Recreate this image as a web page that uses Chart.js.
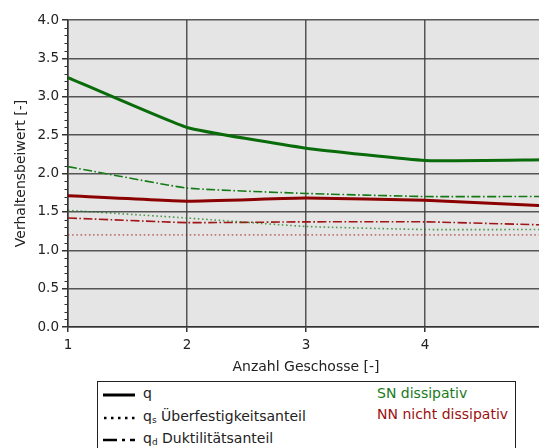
<!DOCTYPE html>
<html>
<head>
<meta charset="utf-8">
<script src="https://cdn.jsdelivr.net/npm/chart.js@4"></script>
<style>
  html, body { margin:0; padding:0; background:#fff; overflow:hidden; width:539px; height:448px; }
  #wrap { position:relative; width:560px; height:448px; }
  canvas { position:absolute; left:0; top:0; }
  #legend { position:absolute; left:97px; top:381px; width:417px; height:90px; border:1.5px solid #222; background:#fff;
            font-family:"DejaVu Sans", sans-serif; font-size:14px; color:#222; }
  .row { position:absolute; left:0; height:20px; }
  .row svg { position:absolute; left:4px; top:4px; }
  .row span { position:absolute; left:45px; top:0px; white-space:nowrap; }
  sub { font-size:9px; vertical-align:-2px; }
  .note { position:absolute; left:279px; white-space:nowrap; }
</style>
</head>
<body>
<div id="wrap">
  <canvas id="c" width="549" height="379"></canvas>
  <div id="legend">
    <div class="row" style="top:3px;"><svg width="34" height="12"><line x1="1" y1="6" x2="33" y2="6" stroke="#000" stroke-width="3"/></svg><span>q</span></div>
    <div class="row" style="top:26px;"><svg width="34" height="12"><line x1="2" y1="6" x2="33" y2="6" stroke="#000" stroke-width="2.5" stroke-dasharray="2.5 4.5"/></svg><span>q<sub>s</sub> Überfestigkeitsanteil</span></div>
    <div class="row" style="top:48px;"><svg width="34" height="12"><line x1="1" y1="6" x2="33" y2="6" stroke="#000" stroke-width="2.5" stroke-dasharray="14 5 3 5"/></svg><span>q<sub>d</sub> Duktilitätsanteil</span></div>
    <div class="note" style="top:3px; color:#1a7a1a;">SN dissipativ</div>
    <div class="note" style="top:24px; color:#9b1111;">NN nicht dissipativ</div>
  </div>
</div>
<script>
// Data
const floors = [1, 2, 3, 4, 5];
const snQ  = [3.25, 2.60, 2.33, 2.17, 2.18];
const snQs = [1.52, 1.42, 1.31, 1.27, 1.27];
const snQd = [2.09, 1.81, 1.74, 1.70, 1.70];
const nnQ  = [1.71, 1.64, 1.68, 1.65, 1.58];
const nnQs = [1.20, 1.20, 1.20, 1.20, 1.20];
const nnQd = [1.42, 1.36, 1.37, 1.37, 1.33];
const yTickStep = 0.5;
const xTickStep = 1;

const toPts = arr => floors.map((x, i) => ({x, y: arr[i]}));
const GREEN = '#0a6b0a';
const RED = '#8b0000';

const bgPlugin = {
  id: 'bg',
  beforeDraw(chart) {
    const {ctx, chartArea: a} = chart;
    ctx.save();
    ctx.fillStyle = '#e5e5e5';
    ctx.fillRect(a.left, a.top, a.right - a.left, a.bottom - a.top);
    ctx.restore();
  }
};
const minorPlugin = {
  id: 'minor',
  afterDraw(chart) {
    const {ctx} = chart;
    const y = chart.scales.y;
    ctx.save();
    ctx.strokeStyle = '#333';
    ctx.lineWidth = 1;
    for (let i = 1; i < 40; i++) {
      if (i % 5 === 0) continue;
      const py = Math.round(y.getPixelForValue(i / 10)) + 0.5;
      ctx.beginPath();
      ctx.moveTo(y.right - 3.5, py);
      ctx.lineTo(y.right, py);
      ctx.stroke();
    }
    ctx.restore();
  }
};

const font = {family: '"DejaVu Sans", sans-serif', size: 13.5};
const tfont = {family: '"DejaVu Sans", sans-serif', size: 14};

new Chart(document.getElementById('c'), {
  type: 'line',
  data: {
    datasets: [
      {data: toPts(nnQs), borderColor: 'rgba(160,30,30,0.55)', borderWidth: 1.6, borderDash: [1.6, 2.6]},
      {data: toPts(snQs), borderColor: 'rgba(20,120,20,0.7)', borderWidth: 1.6, borderDash: [1.6, 2.6]},
      {data: toPts(nnQd), borderColor: '#a01515', borderWidth: 1.6, borderDash: [9, 2.5, 1.6, 2.5]},
      {data: toPts(snQd), borderColor: '#147a14', borderWidth: 1.6, borderDash: [9, 2.5, 1.6, 2.5]},
      {data: toPts(nnQ), borderColor: RED, borderWidth: 3},
      {data: toPts(snQ), borderColor: GREEN, borderWidth: 3},
    ].map(d => Object.assign({pointRadius: 0, fill: false, tension: 0.12, borderCapStyle: 'butt'}, d))
  },
  options: {
    responsive: false,
    animation: false,
    events: [],
    layout: {padding: {top: 20, left: 0, right: 1, bottom: 0}},
    plugins: {legend: {display: false}, tooltip: {enabled: false}},
    scales: {
      x: {
        type: 'linear', min: 1, max: 5,
        afterFit: s => { s.height = 52; },
        ticks: {stepSize: xTickStep, color: '#222', font, padding: 5,
                callback: v => (v === 5 ? '' : String(v))},
        grid: {color: 'rgba(60,60,60,0.85)', lineWidth: 1.5, tickLength: 5, tickColor: '#333'},
        border: {color: '#333', width: 1.5},
        title: {display: true, text: 'Anzahl Geschosse [-]', color: '#222', font: tfont, padding: {top: 4, bottom: 3}}
      },
      y: {
        min: 0, max: 4,
        afterFit: s => { s.width = 68; },
        ticks: {stepSize: yTickStep, color: '#222', font, padding: 3,
                callback: v => Number(v).toFixed(1)},
        grid: {color: 'rgba(60,60,60,0.85)', lineWidth: 1.5, tickLength: 6, tickColor: '#333'},
        border: {color: '#333', width: 1.5},
        title: {display: true, text: 'Verhaltensbeiwert [-]', color: '#222', font: tfont, padding: {top: 13, bottom: 13}}
      }
    }
  },
  plugins: [bgPlugin, minorPlugin]
});
</script>
</body>
</html>
